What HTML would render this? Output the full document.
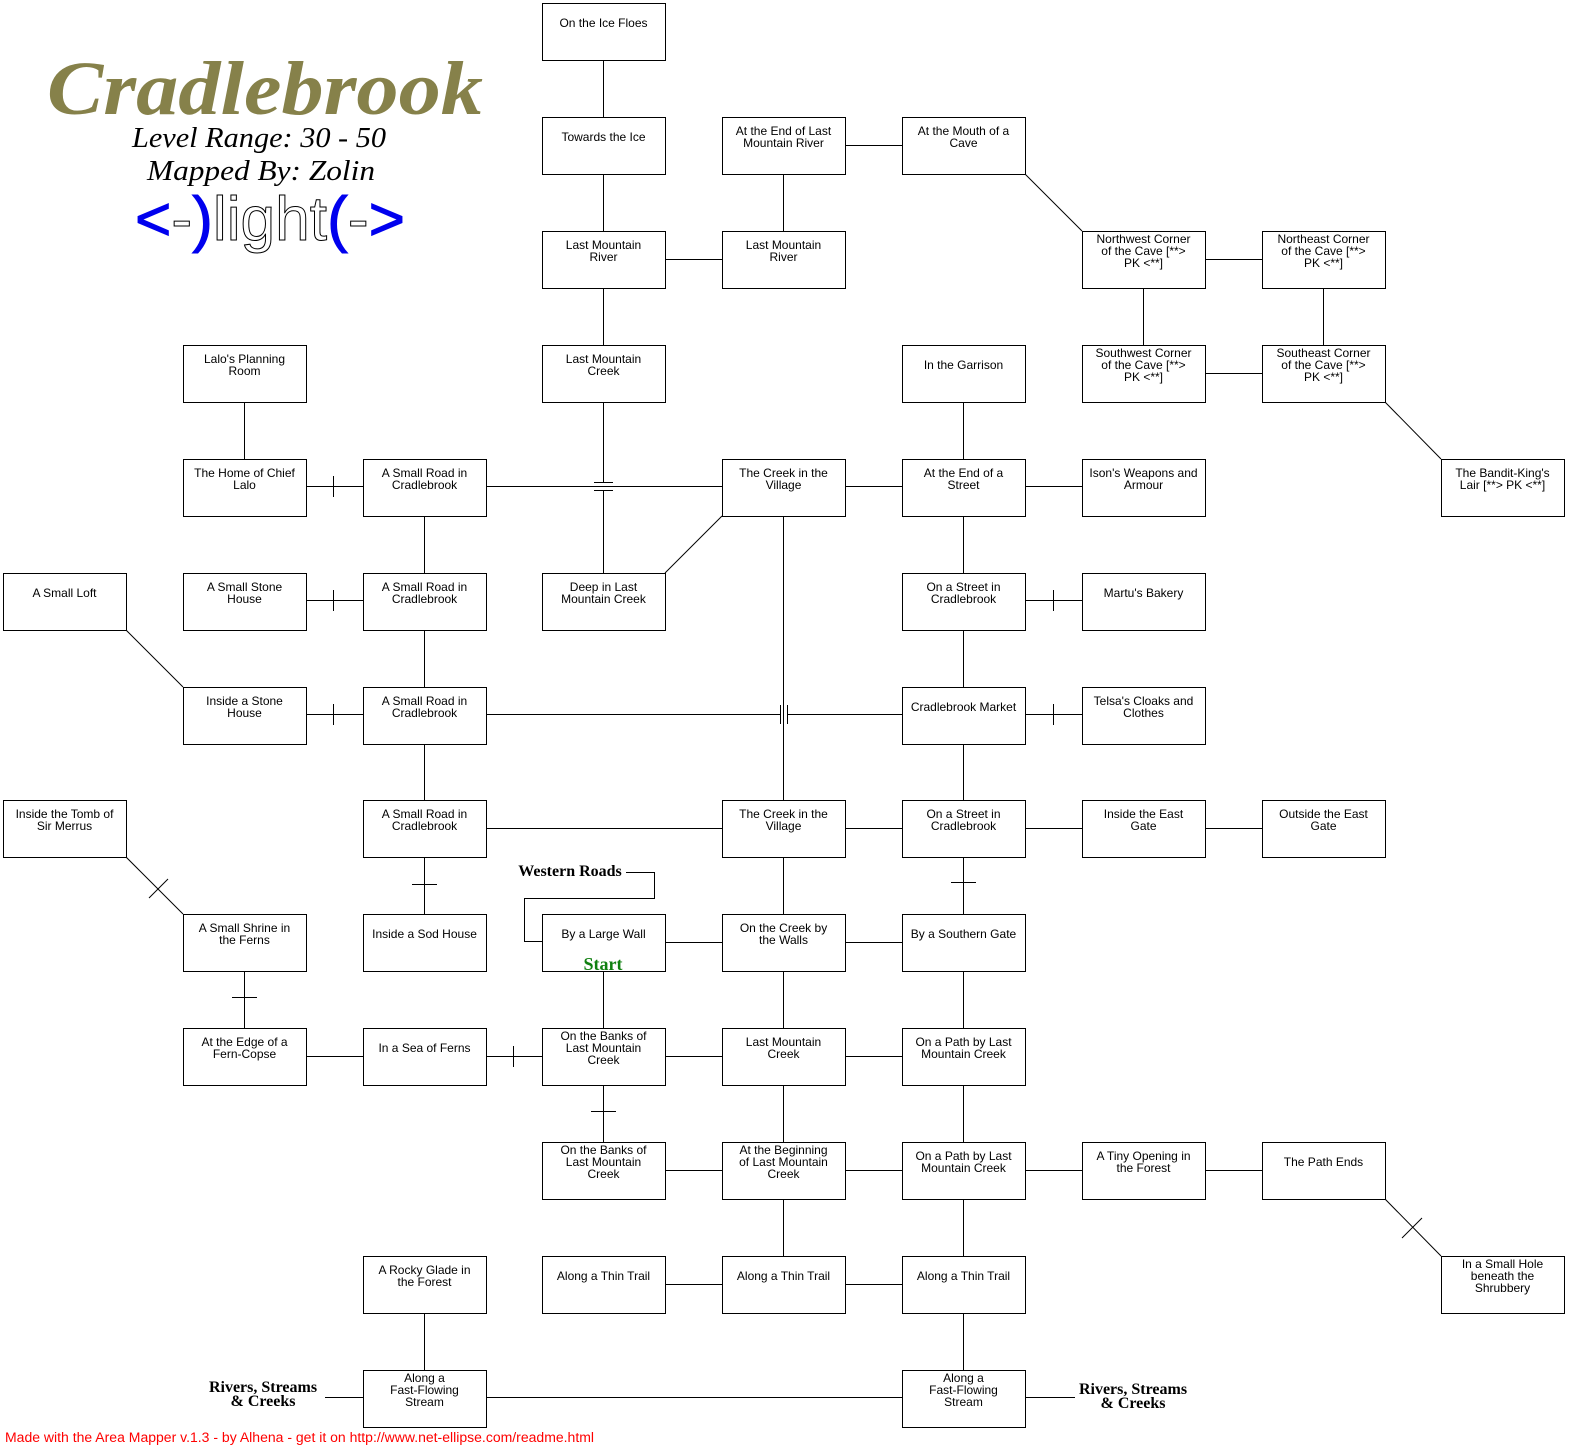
<!DOCTYPE html>
<html><head><meta charset="utf-8"><style>
html,body{margin:0;padding:0;background:#fff;}
svg{display:block;}
.n rect{fill:#fff;stroke:#000;stroke-width:1;}
text{font-family:"Liberation Sans",Arial,sans-serif;font-size:12px;text-anchor:middle;fill:#000;}
.s{font-family:"Liberation Serif",serif;font-size:16px;font-weight:bold;}
line,polyline{stroke:#000;stroke-width:1;fill:none;}
</style></head><body>
<svg width="1570" height="1449" viewBox="0 0 1570 1449" xmlns="http://www.w3.org/2000/svg">
<g shape-rendering="crispEdges">
<!-- vertical connectors -->
<line x1="603.5" y1="60" x2="603.5" y2="117"/>
<line x1="603.5" y1="174" x2="603.5" y2="231"/>
<line x1="603.5" y1="288" x2="603.5" y2="345"/>
<line x1="603.5" y1="402" x2="603.5" y2="482"/>
<line x1="603.5" y1="490" x2="603.5" y2="573"/>
<line x1="783.5" y1="174" x2="783.5" y2="231"/>
<line x1="963.5" y1="402" x2="963.5" y2="459"/>
<line x1="963.5" y1="516" x2="963.5" y2="573"/>
<line x1="963.5" y1="630" x2="963.5" y2="687"/>
<line x1="963.5" y1="744" x2="963.5" y2="800"/>
<line x1="1143.5" y1="288" x2="1143.5" y2="345"/>
<line x1="1323.5" y1="288" x2="1323.5" y2="345"/>
<line x1="244.5" y1="402" x2="244.5" y2="459"/>
<line x1="424.5" y1="516" x2="424.5" y2="573"/>
<line x1="424.5" y1="630" x2="424.5" y2="687"/>
<line x1="424.5" y1="744" x2="424.5" y2="800"/>
<line x1="424.5" y1="857" x2="424.5" y2="914"/>
<line x1="783.5" y1="516" x2="783.5" y2="800"/>
<line x1="783.5" y1="857" x2="783.5" y2="914"/>
<line x1="783.5" y1="971" x2="783.5" y2="1028"/>
<line x1="783.5" y1="1085" x2="783.5" y2="1142"/>
<line x1="783.5" y1="1199" x2="783.5" y2="1256"/>
<line x1="963.5" y1="857" x2="963.5" y2="914"/>
<line x1="963.5" y1="971" x2="963.5" y2="1028"/>
<line x1="963.5" y1="1085" x2="963.5" y2="1142"/>
<line x1="963.5" y1="1199" x2="963.5" y2="1256"/>
<line x1="963.5" y1="1313" x2="963.5" y2="1370"/>
<line x1="244.5" y1="971" x2="244.5" y2="1028"/>
<line x1="603.5" y1="971" x2="603.5" y2="1028"/>
<line x1="603.5" y1="1085" x2="603.5" y2="1142"/>
<line x1="424.5" y1="1313" x2="424.5" y2="1370"/>
<!-- horizontal connectors -->
<line x1="845" y1="145.5" x2="902" y2="145.5"/>
<line x1="665" y1="259.5" x2="722" y2="259.5"/>
<line x1="1205" y1="259.5" x2="1262" y2="259.5"/>
<line x1="1205" y1="373.5" x2="1262" y2="373.5"/>
<line x1="306" y1="486.5" x2="363" y2="486.5"/>
<line x1="486" y1="486.5" x2="722" y2="486.5"/>
<line x1="845" y1="486.5" x2="902" y2="486.5"/>
<line x1="1025" y1="486.5" x2="1082" y2="486.5"/>
<line x1="306" y1="600.5" x2="363" y2="600.5"/>
<line x1="1025" y1="600.5" x2="1082" y2="600.5"/>
<line x1="306" y1="714.5" x2="363" y2="714.5"/>
<line x1="486" y1="714.5" x2="780" y2="714.5"/>
<line x1="787" y1="714.5" x2="902" y2="714.5"/>
<line x1="1025" y1="714.5" x2="1082" y2="714.5"/>
<line x1="486" y1="828.5" x2="722" y2="828.5"/>
<line x1="845" y1="828.5" x2="902" y2="828.5"/>
<line x1="1025" y1="828.5" x2="1082" y2="828.5"/>
<line x1="1205" y1="828.5" x2="1262" y2="828.5"/>
<line x1="665" y1="942.5" x2="722" y2="942.5"/>
<line x1="845" y1="942.5" x2="902" y2="942.5"/>
<line x1="306" y1="1056.5" x2="363" y2="1056.5"/>
<line x1="486" y1="1056.5" x2="542" y2="1056.5"/>
<line x1="665" y1="1056.5" x2="722" y2="1056.5"/>
<line x1="845" y1="1056.5" x2="902" y2="1056.5"/>
<line x1="665" y1="1170.5" x2="722" y2="1170.5"/>
<line x1="845" y1="1170.5" x2="902" y2="1170.5"/>
<line x1="1025" y1="1170.5" x2="1082" y2="1170.5"/>
<line x1="1205" y1="1170.5" x2="1262" y2="1170.5"/>
<line x1="665" y1="1284.5" x2="722" y2="1284.5"/>
<line x1="845" y1="1284.5" x2="902" y2="1284.5"/>
<line x1="486" y1="1397.5" x2="902" y2="1397.5"/>
<line x1="325" y1="1397.5" x2="363" y2="1397.5"/>
<line x1="1025" y1="1397.5" x2="1075" y2="1397.5"/>
<!-- ticks -->
<line x1="333.5" y1="476" x2="333.5" y2="497"/>
<line x1="333.5" y1="590" x2="333.5" y2="611"/>
<line x1="333.5" y1="704" x2="333.5" y2="725"/>
<line x1="1053.5" y1="590" x2="1053.5" y2="611"/>
<line x1="1053.5" y1="704" x2="1053.5" y2="725"/>
<line x1="513.5" y1="1046" x2="513.5" y2="1067"/>
<line x1="594" y1="482.5" x2="613" y2="482.5"/>
<line x1="594" y1="490.5" x2="613" y2="490.5"/>
<line x1="780.5" y1="705" x2="780.5" y2="724"/>
<line x1="787.5" y1="705" x2="787.5" y2="724"/>
<line x1="412" y1="884.5" x2="437" y2="884.5"/>
<line x1="951" y1="882.5" x2="976" y2="882.5"/>
<line x1="232" y1="997.5" x2="257" y2="997.5"/>
<line x1="591" y1="1111.5" x2="616" y2="1111.5"/>
<!-- western roads -->
<polyline points="626,872.5 654.5,872.5 654.5,898.5 524.5,898.5 524.5,941.5 542,941.5"/>
</g>
<!-- diagonals -->
<line x1="1025" y1="174" x2="1082" y2="231"/>
<line x1="1385" y1="402" x2="1441" y2="459"/>
<line x1="722" y1="516" x2="665" y2="573"/>
<line x1="126" y1="630" x2="183" y2="687"/>
<line x1="126" y1="857" x2="183" y2="914"/>
<line x1="149" y1="898" x2="168" y2="879"/>
<line x1="1385" y1="1199" x2="1441" y2="1256"/>
<line x1="1402" y1="1238" x2="1422" y2="1218"/>

<g class="n">
<rect x="542.5" y="3.5" width="123" height="57"/><text x="603.5" y="27">On the Ice Floes</text>
<rect x="542.5" y="117.5" width="123" height="57"/><text x="603.5" y="141">Towards the Ice</text>
<rect x="722.5" y="117.5" width="123" height="57"/><text x="783.5" y="135">At the End of Last</text><text x="783.5" y="147">Mountain River</text>
<rect x="902.5" y="117.5" width="123" height="57"/><text x="963.5" y="135">At the Mouth of a</text><text x="963.5" y="147">Cave</text>
<rect x="542.5" y="231.5" width="123" height="57"/><text x="603.5" y="249">Last Mountain</text><text x="603.5" y="261">River</text>
<rect x="722.5" y="231.5" width="123" height="57"/><text x="783.5" y="249">Last Mountain</text><text x="783.5" y="261">River</text>
<rect x="1082.5" y="231.5" width="123" height="57"/><text x="1143.5" y="243">Northwest Corner</text><text x="1143.5" y="255">of the Cave [**&gt;</text><text x="1143.5" y="267">PK &lt;**]</text>
<rect x="1262.5" y="231.5" width="123" height="57"/><text x="1323.5" y="243">Northeast Corner</text><text x="1323.5" y="255">of the Cave [**&gt;</text><text x="1323.5" y="267">PK &lt;**]</text>
<rect x="183.5" y="345.5" width="123" height="57"/><text x="244.5" y="363">Lalo's Planning</text><text x="244.5" y="375">Room</text>
<rect x="542.5" y="345.5" width="123" height="57"/><text x="603.5" y="363">Last Mountain</text><text x="603.5" y="375">Creek</text>
<rect x="902.5" y="345.5" width="123" height="57"/><text x="963.5" y="369">In the Garrison</text>
<rect x="1082.5" y="345.5" width="123" height="57"/><text x="1143.5" y="357">Southwest Corner</text><text x="1143.5" y="369">of the Cave [**&gt;</text><text x="1143.5" y="381">PK &lt;**]</text>
<rect x="1262.5" y="345.5" width="123" height="57"/><text x="1323.5" y="357">Southeast Corner</text><text x="1323.5" y="369">of the Cave [**&gt;</text><text x="1323.5" y="381">PK &lt;**]</text>
<rect x="183.5" y="459.5" width="123" height="57"/><text x="244.5" y="477">The Home of Chief</text><text x="244.5" y="489">Lalo</text>
<rect x="363.5" y="459.5" width="123" height="57"/><text x="424.5" y="477">A Small Road in</text><text x="424.5" y="489">Cradlebrook</text>
<rect x="722.5" y="459.5" width="123" height="57"/><text x="783.5" y="477">The Creek in the</text><text x="783.5" y="489">Village</text>
<rect x="902.5" y="459.5" width="123" height="57"/><text x="963.5" y="477">At the End of a</text><text x="963.5" y="489">Street</text>
<rect x="1082.5" y="459.5" width="123" height="57"/><text x="1143.5" y="477">Ison's Weapons and</text><text x="1143.5" y="489">Armour</text>
<rect x="1441.5" y="459.5" width="123" height="57"/><text x="1502.5" y="477">The Bandit-King's</text><text x="1502.5" y="489">Lair [**&gt; PK &lt;**]</text>
<rect x="3.5" y="573.5" width="123" height="57"/><text x="64.5" y="597">A Small Loft</text>
<rect x="183.5" y="573.5" width="123" height="57"/><text x="244.5" y="591">A Small Stone</text><text x="244.5" y="603">House</text>
<rect x="363.5" y="573.5" width="123" height="57"/><text x="424.5" y="591">A Small Road in</text><text x="424.5" y="603">Cradlebrook</text>
<rect x="542.5" y="573.5" width="123" height="57"/><text x="603.5" y="591">Deep in Last</text><text x="603.5" y="603">Mountain Creek</text>
<rect x="902.5" y="573.5" width="123" height="57"/><text x="963.5" y="591">On a Street in</text><text x="963.5" y="603">Cradlebrook</text>
<rect x="1082.5" y="573.5" width="123" height="57"/><text x="1143.5" y="597">Martu's Bakery</text>
<rect x="183.5" y="687.5" width="123" height="57"/><text x="244.5" y="705">Inside a Stone</text><text x="244.5" y="717">House</text>
<rect x="363.5" y="687.5" width="123" height="57"/><text x="424.5" y="705">A Small Road in</text><text x="424.5" y="717">Cradlebrook</text>
<rect x="902.5" y="687.5" width="123" height="57"/><text x="963.5" y="711">Cradlebrook Market</text>
<rect x="1082.5" y="687.5" width="123" height="57"/><text x="1143.5" y="705">Telsa's Cloaks and</text><text x="1143.5" y="717">Clothes</text>
<rect x="3.5" y="800.5" width="123" height="57"/><text x="64.5" y="818">Inside the Tomb of</text><text x="64.5" y="830">Sir Merrus</text>
<rect x="363.5" y="800.5" width="123" height="57"/><text x="424.5" y="818">A Small Road in</text><text x="424.5" y="830">Cradlebrook</text>
<rect x="722.5" y="800.5" width="123" height="57"/><text x="783.5" y="818">The Creek in the</text><text x="783.5" y="830">Village</text>
<rect x="902.5" y="800.5" width="123" height="57"/><text x="963.5" y="818">On a Street in</text><text x="963.5" y="830">Cradlebrook</text>
<rect x="1082.5" y="800.5" width="123" height="57"/><text x="1143.5" y="818">Inside the East</text><text x="1143.5" y="830">Gate</text>
<rect x="1262.5" y="800.5" width="123" height="57"/><text x="1323.5" y="818">Outside the East</text><text x="1323.5" y="830">Gate</text>
<rect x="183.5" y="914.5" width="123" height="57"/><text x="244.5" y="932">A Small Shrine in</text><text x="244.5" y="944">the Ferns</text>
<rect x="363.5" y="914.5" width="123" height="57"/><text x="424.5" y="938">Inside a Sod House</text>
<rect x="542.5" y="914.5" width="123" height="57"/><text x="603.5" y="938">By a Large Wall</text>
<rect x="722.5" y="914.5" width="123" height="57"/><text x="783.5" y="932">On the Creek by</text><text x="783.5" y="944">the Walls</text>
<rect x="902.5" y="914.5" width="123" height="57"/><text x="963.5" y="938">By a Southern Gate</text>
<rect x="183.5" y="1028.5" width="123" height="57"/><text x="244.5" y="1046">At the Edge of a</text><text x="244.5" y="1058">Fern-Copse</text>
<rect x="363.5" y="1028.5" width="123" height="57"/><text x="424.5" y="1052">In a Sea of Ferns</text>
<rect x="542.5" y="1028.5" width="123" height="57"/><text x="603.5" y="1040">On the Banks of</text><text x="603.5" y="1052">Last Mountain</text><text x="603.5" y="1064">Creek</text>
<rect x="722.5" y="1028.5" width="123" height="57"/><text x="783.5" y="1046">Last Mountain</text><text x="783.5" y="1058">Creek</text>
<rect x="902.5" y="1028.5" width="123" height="57"/><text x="963.5" y="1046">On a Path by Last</text><text x="963.5" y="1058">Mountain Creek</text>
<rect x="542.5" y="1142.5" width="123" height="57"/><text x="603.5" y="1154">On the Banks of</text><text x="603.5" y="1166">Last Mountain</text><text x="603.5" y="1178">Creek</text>
<rect x="722.5" y="1142.5" width="123" height="57"/><text x="783.5" y="1154">At the Beginning</text><text x="783.5" y="1166">of Last Mountain</text><text x="783.5" y="1178">Creek</text>
<rect x="902.5" y="1142.5" width="123" height="57"/><text x="963.5" y="1160">On a Path by Last</text><text x="963.5" y="1172">Mountain Creek</text>
<rect x="1082.5" y="1142.5" width="123" height="57"/><text x="1143.5" y="1160">A Tiny Opening in</text><text x="1143.5" y="1172">the Forest</text>
<rect x="1262.5" y="1142.5" width="123" height="57"/><text x="1323.5" y="1166">The Path Ends</text>
<rect x="363.5" y="1256.5" width="123" height="57"/><text x="424.5" y="1274">A Rocky Glade in</text><text x="424.5" y="1286">the Forest</text>
<rect x="542.5" y="1256.5" width="123" height="57"/><text x="603.5" y="1280">Along a Thin Trail</text>
<rect x="722.5" y="1256.5" width="123" height="57"/><text x="783.5" y="1280">Along a Thin Trail</text>
<rect x="902.5" y="1256.5" width="123" height="57"/><text x="963.5" y="1280">Along a Thin Trail</text>
<rect x="1441.5" y="1256.5" width="123" height="57"/><text x="1502.5" y="1268">In a Small Hole</text><text x="1502.5" y="1280">beneath the</text><text x="1502.5" y="1292">Shrubbery</text>
<rect x="363.5" y="1370.5" width="123" height="57"/><text x="424.5" y="1382">Along a</text><text x="424.5" y="1394">Fast-Flowing</text><text x="424.5" y="1406">Stream</text>
<rect x="902.5" y="1370.5" width="123" height="57"/><text x="963.5" y="1382">Along a</text><text x="963.5" y="1394">Fast-Flowing</text><text x="963.5" y="1406">Stream</text>
</g>

<text class="s" x="570" y="876">Western Roads</text>
<text class="s" x="603" y="970" style="fill:#108010;font-size:18px">Start</text>
<text class="s" x="263" y="1392">Rivers, Streams</text>
<text class="s" x="263" y="1406">&amp; Creeks</text>
<text class="s" x="1133" y="1394">Rivers, Streams</text>
<text class="s" x="1133" y="1408">&amp; Creeks</text>

<text x="265" y="114" style="font-family:'Liberation Serif',serif;font-size:76px;font-style:italic;font-weight:bold;fill:#86814a" textLength="436" lengthAdjust="spacingAndGlyphs">Cradlebrook</text>
<text x="259" y="147" style="font-family:'Liberation Serif',serif;font-size:29px;font-style:italic" textLength="254" lengthAdjust="spacingAndGlyphs">Level Range: 30 - 50</text>
<text x="261" y="180" style="font-family:'Liberation Serif',serif;font-size:29px;font-style:italic" textLength="228" lengthAdjust="spacingAndGlyphs">Mapped By: Zolin</text>
<text x="270" y="240" style="font-size:62px;fill:#fff;stroke:#000;stroke-width:1" textLength="270" lengthAdjust="spacingAndGlyphs"><tspan style="fill:#0000ee;stroke:#0000ee">&lt;</tspan><tspan>-</tspan><tspan style="fill:#0000ee;stroke:#0000ee">)</tspan>light<tspan style="fill:#0000ee;stroke:#0000ee">(</tspan><tspan>-</tspan><tspan style="fill:#0000ee;stroke:#0000ee">&gt;</tspan></text>

<text x="5" y="1442" style="text-anchor:start;font-size:13.5px;fill:#ff0000" textLength="589" lengthAdjust="spacingAndGlyphs">Made with the Area Mapper v.1.3 - by Alhena - get it on http://www.net-ellipse.com/readme.html</text>
</svg>
</body></html>
